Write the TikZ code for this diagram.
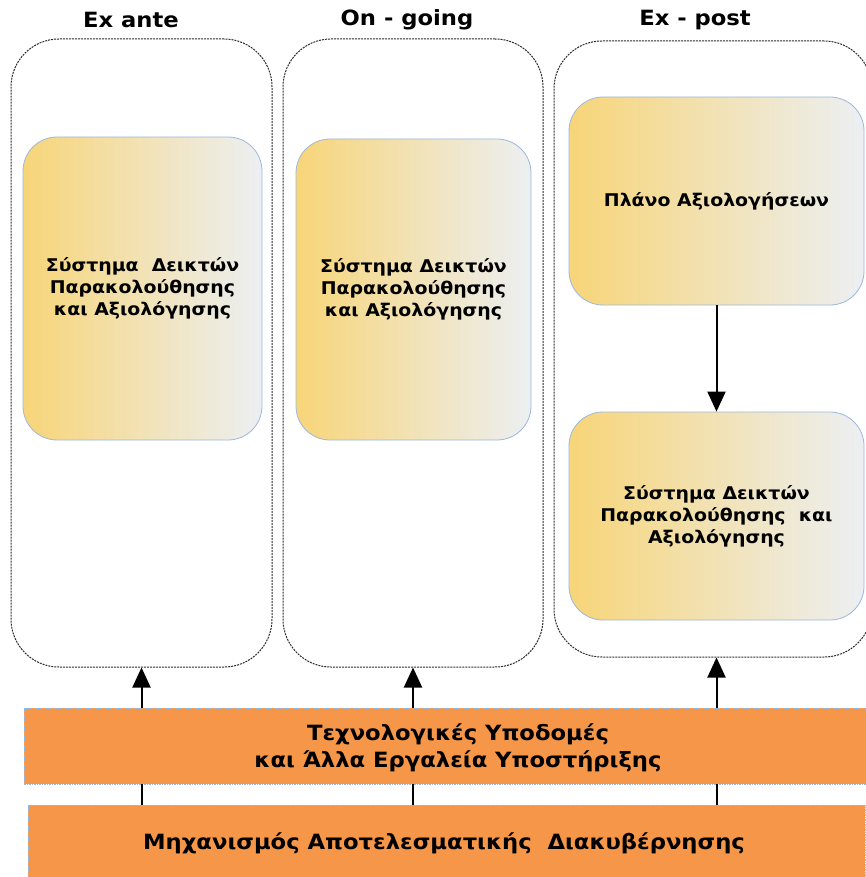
\documentclass[tikz,border=0pt]{standalone}
\usepackage{fontspec}
\setmainfont{DejaVu Sans}[FakeStretch=1.08]
\usetikzlibrary{arrows.meta}
\definecolor{goldL}{RGB}{247,213,120}
\definecolor{greyR}{RGB}{236,239,243}
\definecolor{paleblue}{RGB}{158,184,220}
\definecolor{orangebar}{RGB}{245,150,72}
\definecolor{dashgrey}{RGB}{45,45,45}
\tikzset{
  phase/.style={draw=dashgrey, line width=1pt, dash pattern=on 2pt off 1pt,
    rounded corners=48pt, rectangle, inner sep=0pt},
  card/.style={rectangle, rounded corners=34pt, draw=paleblue, line width=0.8pt,
    left color=goldL, right color=greyR, inner sep=0pt, align=center,
    font=\bfseries\fontsize{17.5}{22}\selectfont},
  bar/.style={rectangle, fill=orangebar, draw=paleblue, line width=0.5pt,
    dash pattern=on 1.5pt off 1pt, inner sep=0pt},
  bartext/.style={align=center, inner sep=0pt,
    font=\bfseries\fontsize{21}{27}\selectfont},
  heading/.style={font=\bfseries\fontsize{21}{24}\selectfont},
  uparrow/.style={line width=2pt, -{Triangle[length=20pt,width=18pt]}},
  link/.style={line width=2pt},
}
\begin{document}
\begin{tikzpicture}[x=1pt,y=-1pt]
\clip (0,0) rectangle (866,877);
\fill[white] (0,0) rectangle (866,877);

% three phase containers
\node[phase, minimum width=261pt, minimum height=628pt] (exante) at (141.5,353) {};
\node[phase, minimum width=260pt, minimum height=628pt] (ongoing) at (413,353) {};
\node[phase, minimum width=318pt, minimum height=616pt] (expost) at (713,349) {};

% headings
\node[heading] (hA) at (131,20) {Ex ante};
\node[heading] (hB) at (407,20) {On - going};
\node[heading] (hC) at (695,20) {Ex - post};

% indicator cards
\node[card, minimum width=239pt, minimum height=303pt] (sysA) at (142.5,288.5)
  {Σύστημα\ \ Δεικτών\\Παρακολούθησης\\και Αξιολόγησης};
\node[card, minimum width=235pt, minimum height=301pt] (sysB) at (413.5,289.5)
  {Σύστημα Δεικτών\\Παρακολούθησης\\και Αξιολόγησης};
\node[card, minimum width=295pt, minimum height=208pt] (plan) at (716.5,201)
  {Πλάνο Αξιολογήσεων};
\node[card, minimum width=295pt, minimum height=208pt] (sysC) at (716.5,516)
  {Σύστημα Δεικτών\\Παρακολούθησης\ \ και\\Αξιολόγησης};

% supporting layers
\node[bar, minimum width=846pt, minimum height=76pt] (infra) at (447,746) {};
\node[bartext] (infratext) at (458,748)
  {Τεχνολογικές Υποδομές\\και Άλλα Εργαλεία Υποστήριξης};
\node[bar, minimum width=837pt, minimum height=76pt] (gov) at (446.5,843) {};
\node[bartext] (govtext) at (444,843)
  {Μηχανισμός Αποτελεσματικής\ \ Διακυβέρνησης};

% connectors
\draw[uparrow] (plan.south) -- (sysC.north);
\draw[uparrow] (infra.north -| exante.south) -- (exante.south);
\draw[uparrow] (infra.north -| ongoing.south) -- (ongoing.south);
\draw[uparrow] (infra.north -| sysC.south) -- (expost.south -| sysC.south);
\draw[link] (gov.north -| exante.south) -- (infra.south -| exante.south);
\draw[link] (gov.north -| ongoing.south) -- (infra.south -| ongoing.south);
\draw[link] (gov.north -| sysC.south) -- (infra.south -| sysC.south);
\end{tikzpicture}
\end{document}
